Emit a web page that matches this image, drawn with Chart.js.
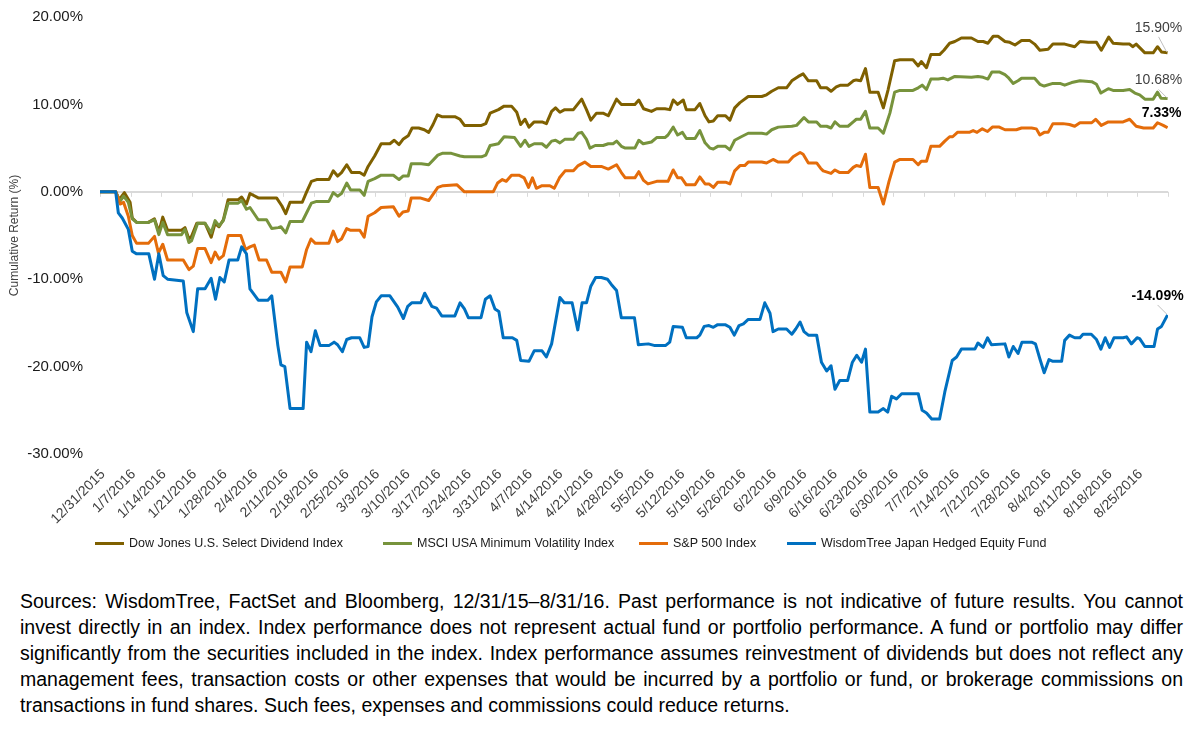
<!DOCTYPE html>
<html>
<head>
<meta charset="utf-8">
<script src="https://cdn.jsdelivr.net/npm/chart.js@4/dist/chart.umd.min.js"></script>
<style>
  body { margin: 0; background: #fff; width: 1200px; height: 736px; position: relative; overflow: hidden; font-family: "Liberation Sans", Arial, sans-serif; }
  #chart { position: absolute; left: 0; top: 0; }
  #legend { position: absolute; top: 534px; left: 0; width: 1200px; height: 18px; font-size: 12.5px; color: #1a1a1a; }
  .item { position: absolute; top: 0; height: 18px; display: flex; align-items: center; white-space: nowrap; }
  .swatch { width: 29px; height: 3px; margin-right: 5px; }
  #note { position: absolute; left: 20px; top: 588px; width: 1163px; font-size: 19.5px; line-height: 26px; color: #000; }
  #note div { text-align: justify; text-align-last: justify; }
  #note div.last { text-align-last: left; }
</style>
</head>
<body>
<canvas id="chart" width="1200" height="540"></canvas>
<div id="legend"></div>
<div id="note">
  <div>Sources: WisdomTree, FactSet and Bloomberg, 12/31/15–8/31/16. Past performance is not indicative of future results. You cannot</div>
  <div>invest directly in an index. Index performance does not represent actual fund or portfolio performance. A fund or portfolio may differ</div>
  <div>significantly from the securities included in the index. Index performance assumes reinvestment of dividends but does not reflect any</div>
  <div>management fees, transaction costs or other expenses that would be incurred by a portfolio or fund, or brokerage commissions on</div>
  <div class="last">transactions in fund shares. Such fees, expenses and commissions could reduce returns.</div>
</div>
<script>
// x = days since 12/31/2015, y = cumulative return (%)
const seriesNames = [
    'Dow Jones U.S. Select Dividend Index',
    'MSCI USA Minimum Volatility Index',
    'S&P 500 Index',
    'WisdomTree Japan Hedged Equity Fund'
];

const tickLabels = ['12/31/2015', '1/7/2016', '1/14/2016', '1/21/2016', '1/28/2016', '2/4/2016', '2/11/2016',
    '2/18/2016', '2/25/2016', '3/3/2016', '3/10/2016', '3/17/2016', '3/24/2016', '3/31/2016', '4/7/2016',
    '4/14/2016', '4/21/2016', '4/28/2016', '5/5/2016', '5/12/2016', '5/19/2016', '5/26/2016', '6/2/2016',
    '6/9/2016', '6/16/2016', '6/23/2016', '6/30/2016', '7/7/2016', '7/14/2016', '7/21/2016', '7/28/2016',
    '8/4/2016', '8/11/2016', '8/18/2016', '8/25/2016'];

const dividendPts = [[0,0],[3.6,0],[4.4,-0.9],[5.6,-0.1],[6.9,-1.2],[7.4,-3.0],[8.4,-3.5],[11.1,-3.5],[12.5,-3.1],
    [13.5,-4.6],[14.4,-2.9],[15.5,-4.4],[18.7,-4.4],[19.5,-4.1],[20.4,-5.4],[21.0,-5.1],[22.2,-3.6],[24.1,-3.6],
    [25.5,-5.2],[26.4,-3.6],[27.3,-4.0],[28.3,-3.2],[29.4,-0.9],[31.7,-0.9],[32.5,-0.6],[33.6,-1.4],[34.4,-0.2],
    [36.3,-0.7],[40.5,-0.7],[41.7,-1.6],[42.6,-2.5],[43.6,-1.2],[46.4,-1.2],[47.4,0],[48.5,1.2],[49.7,1.4],
    [52.5,1.4],[53.5,2.4],[54.5,1.8],[55.4,2.2],[56.6,3.1],[57.7,2.2],[59.6,2.2],[60.6,1.9],[61.5,2.9],[63.0,4.1],
    [64.5,5.5],[66.5,5.5],[67.5,5.9],[68.6,5.4],[69.5,6.0],[70.7,6.4],[71.6,7.3],[73.1,7.3],[74.4,7.1],[75.4,6.8],
    [76.4,7.7],[77.4,8.8],[78.4,8.6],[81.4,8.6],[82.6,8.3],[83.6,7.6],[87.5,7.6],[88.5,7.8],[89.5,9.0],[91.4,9.4],
    [92.7,9.8],[94.4,9.8],[95.6,9.1],[96.5,7.7],[97.5,8.3],[98.4,7.4],[99.6,8.0],[101.4,8.0],[102.4,7.8],[103.6,9.2],
    [104.5,9.6],[105.5,9.1],[106.6,9.4],[108.6,9.4],[110.5,10.6],[111.6,9.4],[112.6,8.2],[113.9,9.0],[115.4,9.0],
    [116.6,8.7],[118.5,10.6],[119.6,10.0],[122.7,10.0],[123.6,10.5],[124.7,9.5],[126.5,9.2],[127.7,9.5],[129.6,9.5],
    [130.7,9.4],[131.5,10.5],[132.5,10.0],[133.8,10.5],[134.5,9.4],[136.5,9.4],[137.6,10.1],[138.8,8.7],[139.7,8.0],
    [140.7,8.1],[141.7,8.7],[143.5,8.7],[144.5,8.2],[145.6,9.6],[146.8,10.2],[148.7,10.9],[151.8,10.9],[152.9,11.1],
    [154.1,11.5],[155.6,11.9],[157.5,11.9],[158.7,12.7],[160.2,13.2],[161.3,13.5],[162.5,12.7],[164.4,12.7],
    [165.3,11.9],[166.7,11.9],[167.7,11.5],[168.9,12.0],[169.9,12.2],[171.6,12.2],[172.8,12.7],[173.5,12.8],
    [174.5,12.7],[175.6,14.1],[176.6,11.4],[178.5,11.4],[179.7,9.6],[180.8,11.7],[182.3,15.0],[183.5,15.1],
    [186.5,15.1],[187.7,14.4],[188.4,14.9],[189.6,14.2],[190.6,15.7],[192.6,15.7],[193.6,16.2],[194.9,17.0],
    [196.1,17.2],[197.6,17.6],[199.9,17.6],[201.4,17.2],[202.6,17.2],[203.7,17.0],[204.9,17.8],[206.0,17.8],
    [207.6,17.2],[208.7,17.1],[209.9,16.8],[211.4,17.3],[213.3,17.3],[214.4,16.9],[215.6,16.2],[217.5,16.3],
    [218.6,16.9],[221.3,16.9],[223.6,16.6],[224.8,17.2],[226.7,17.1],[228.6,17.1],[229.7,16.2],[231.4,17.7],
    [232.4,17.0],[234.7,16.9],[236.2,16.9],[236.9,16.6],[237.7,16.9],[238.5,16.5],[239.7,15.9],[241.6,15.9],
    [242.6,16.6],[243.5,16.0],[244.9,15.90]];

const minVolPts = [[0,0],[3.6,0],[4.6,-1.1],[5.4,-0.5],[6.5,-1.2],[7.4,-3.1],[8.4,-3.5],[11.1,-3.5],[12.5,-3.2],
    [13.5,-4.9],[14.4,-3.5],[15.5,-4.9],[18.7,-4.9],[19.5,-4.3],[20.4,-5.8],[21.0,-5.6],[22.4,-3.6],[24.1,-3.6],
    [25.5,-4.7],[26.4,-3.3],[27.3,-3.9],[28.3,-3.3],[29.4,-1.3],[31.7,-1.3],[32.5,-1.0],[33.6,-2.0],[34.4,-1.8],
    [36.3,-3.2],[38.2,-3.2],[39.4,-4.2],[40.9,-4.1],[41.5,-4.0],[42.6,-4.7],[43.6,-3.4],[46.4,-3.4],[47.4,-2.4],
    [48.5,-1.3],[49.7,-1.1],[52.5,-1.1],[53.5,-0.1],[54.5,-0.5],[55.4,-0.2],[56.6,1.0],[57.5,0.2],[59.6,0.2],
    [60.6,-0.4],[61.5,1.2],[63.0,1.5],[64.5,1.9],[67.3,1.9],[68.6,1.4],[69.5,1.8],[70.7,1.8],[71.4,3.2],[73.7,3.2],
    [75.4,3.1],[77.5,4.2],[78.5,4.4],[80.6,4.4],[82.6,4.1],[83.6,4.0],[87.5,4.0],[88.5,4.2],[89.5,5.3],[91.4,5.5],
    [92.7,6.3],[95.1,6.2],[96.5,5.2],[97.5,5.9],[98.4,5.2],[99.6,5.5],[101.4,5.5],[102.4,5.1],[103.6,5.8],[104.5,5.9],
    [105.5,5.6],[106.6,6.0],[108.6,6.0],[109.7,6.7],[110.5,6.8],[111.6,6.0],[112.4,5.0],[113.6,5.3],[115.4,5.3],
    [116.6,5.5],[117.7,5.5],[118.5,5.8],[119.6,5.2],[120.5,5.0],[122.7,5.0],[123.6,5.9],[124.6,5.5],[126.5,5.7],
    [127.7,6.2],[129.6,6.2],[130.3,6.5],[131.5,7.4],[132.5,6.5],[133.6,6.8],[134.5,6.1],[136.5,6.1],[137.6,7.0],
    [138.8,5.6],[139.9,5.0],[140.7,4.9],[141.7,5.2],[143.5,5.2],[144.5,4.8],[145.6,5.9],[147.1,6.3],[148.7,6.7],
    [151.8,6.7],[152.9,6.6],[154.1,7.1],[155.6,7.4],[158.7,7.5],[159.8,7.6],[161.5,8.5],[162.5,8.0],[164.4,8.0],
    [165.3,7.5],[166.7,7.5],[167.7,7.3],[168.6,8.0],[169.7,7.5],[171.6,7.5],[172.8,8.0],[173.5,8.3],[174.5,8.3],
    [175.6,9.2],[176.6,7.3],[178.5,7.3],[179.7,6.7],[181.2,9.0],[182.3,11.4],[183.5,11.6],[186.5,11.6],[187.7,11.9],
    [188.6,12.2],[189.6,11.7],[190.6,12.9],[192.3,12.9],[193.4,13.0],[194.5,12.8],[196.1,13.2],[199.9,13.1],
    [201.4,13.2],[202.6,13.1],[203.7,12.9],[204.6,13.7],[206.4,13.7],[207.6,13.4],[208.3,13.1],[209.5,12.4],
    [210.6,12.7],[211.4,13.0],[214.4,13.0],[215.6,12.3],[216.6,12.1],[218.6,12.4],[220.2,12.4],[221.3,12.2],
    [222.9,12.5],[224.8,12.7],[227.5,12.6],[228.6,12.3],[229.6,11.3],[231.3,11.8],[232.4,11.6],[234.7,11.6],
    [236.2,11.7],[237.4,11.3],[238.5,11.1],[239.7,10.6],[241.6,10.6],[242.6,11.4],[243.4,10.7],[244.9,10.68]];

const sp500Pts = [[0,0],[3.6,0],[4.6,-1.4],[5.4,-1.2],[6.5,-2.8],[7.4,-5.0],[8.4,-5.9],[11.1,-5.9],[12.5,-5.1],
    [13.4,-7.0],[14.4,-6.0],[15.5,-7.8],[19.1,-7.8],[20.4,-8.9],[21.4,-8.5],[22.4,-6.5],[24.1,-6.5],[25.5,-8.1],
    [26.4,-6.9],[27.3,-7.7],[28.3,-7.3],[29.4,-5.0],[32.3,-5.0],[33.4,-6.6],[34.4,-6.3],[35.4,-6.1],[36.5,-7.8],
    [38.2,-7.8],[39.4,-9.2],[41.5,-9.2],[42.6,-10.3],[43.6,-8.6],[46.4,-8.6],[47.4,-6.6],[48.4,-5.4],[49.4,-5.9],
    [52.5,-5.9],[53.5,-4.5],[54.5,-5.7],[55.4,-5.4],[56.6,-4.2],[57.5,-4.4],[59.6,-4.4],[60.6,-5.2],[61.5,-2.8],
    [63.0,-2.4],[64.5,-1.8],[67.3,-1.7],[68.6,-2.8],[69.5,-2.3],[70.7,-2.2],[71.4,-0.7],[73.4,-0.7],[75.4,-1.0],
    [77.5,0.5],[78.7,0.7],[81.9,0.8],[83.6,0],[90.2,0],[91.2,1.0],[92.3,1.4],[93.2,1.2],[94.4,1.9],[96.1,1.9],
    [97.3,1.6],[98.3,0.5],[99.2,1.6],[100.1,0.4],[101.4,0.7],[103.2,0.7],[104.2,0.4],[105.4,1.6],[106.7,2.4],
    [108.6,2.4],[109.7,3.0],[111.2,3.4],[112.6,2.9],[115.0,2.9],[116.6,2.6],[118.5,3.1],[119.6,2.2],[120.5,1.6],
    [122.7,1.6],[123.6,2.3],[124.7,1.3],[125.7,0.9],[127.7,1.2],[130.3,1.2],[131.5,2.5],[132.5,1.6],[133.4,1.6],
    [134.5,0.8],[136.5,0.8],[137.6,1.7],[138.8,0.9],[139.7,0.9],[140.7,0.5],[141.7,1.1],[143.5,1.1],[144.5,0.9],
    [145.6,2.4],[146.8,3.0],[147.9,3.0],[148.7,3.4],[151.8,3.4],[152.9,3.3],[154.4,3.7],[155.6,3.4],[157.9,3.4],
    [159.0,4.0],[160.6,4.5],[161.3,4.3],[162.5,3.3],[164.4,3.3],[165.3,2.7],[165.9,2.4],[167.7,2.1],[168.6,2.5],
    [169.7,2.2],[171.6,2.2],[172.8,2.8],[173.5,3.0],[174.5,2.9],[175.6,4.3],[176.6,0.5],[178.5,0.5],[179.7,-1.4],
    [181.0,1.2],[182.3,3.4],[183.5,3.7],[186.5,3.7],[187.7,3.1],[188.4,3.5],[189.6,3.5],[190.6,5.2],[192.6,5.2],
    [193.8,5.8],[194.9,6.3],[195.6,6.3],[196.7,6.8],[199.4,6.8],[200.3,7.0],[201.2,6.8],[202.4,7.2],[203.6,6.9],
    [204.7,7.4],[206.3,7.4],[207.6,7.1],[210.2,7.1],[211.4,7.3],[213.7,7.3],[214.8,7.2],[215.6,6.5],[216.6,6.8],
    [217.5,6.8],[218.6,7.8],[220.9,7.8],[222.4,7.7],[223.6,7.5],[224.8,7.9],[227.5,7.9],[228.4,8.3],[229.7,7.6],
    [231.3,8.0],[234.7,8.0],[236.2,8.3],[237.7,7.5],[239.4,7.3],[241.6,7.3],[242.6,7.9],[243.9,7.6],[244.9,7.33]];

const japanPts = [[0,0],[3.6,0],[4.2,-2.4],[5.1,-3.0],[6.5,-4.3],[7.4,-6.8],[8.4,-7.1],[11.2,-7.1],[12.5,-10.0],
    [13.5,-7.1],[14.5,-9.6],[15.5,-10.0],[19.1,-10.2],[19.9,-13.8],[21.4,-16.0],[22.4,-11.1],[24.1,-11.1],
    [25.5,-9.9],[26.5,-12.3],[27.5,-9.8],[28.5,-10.3],[29.6,-7.8],[31.6,-7.8],[32.5,-6.3],[33.6,-7.1],[34.4,-11.1],
    [36.3,-12.4],[38.5,-12.4],[39.4,-11.9],[40.8,-17.6],[41.5,-19.8],[42.4,-20.0],[43.6,-24.8],[46.6,-24.8],
    [47.4,-17.2],[48.4,-18.3],[49.4,-15.9],[50.5,-17.6],[52.5,-17.6],[53.7,-17.2],[54.5,-17.5],[55.6,-18.3],
    [56.6,-16.9],[57.7,-16.7],[59.6,-16.7],[60.6,-17.8],[61.5,-17.7],[62.4,-14.3],[63.4,-12.6],[64.5,-11.9],
    [66.5,-11.9],[68.3,-13.2],[69.6,-14.5],[70.6,-13.1],[71.5,-12.7],[73.6,-12.7],[74.5,-11.6],[76.1,-13.1],
    [77.2,-13.3],[78.4,-14.2],[81.4,-14.2],[82.6,-12.7],[83.6,-13.4],[84.5,-14.4],[87.4,-14.4],[88.4,-12.3],
    [89.5,-11.9],[90.6,-13.4],[91.5,-13.7],[92.5,-16.7],[94.6,-16.7],[95.6,-17.0],[96.5,-19.3],[98.4,-19.4],
    [99.6,-18.2],[101.4,-18.2],[102.4,-18.9],[103.6,-17.4],[105.5,-12.1],[106.5,-12.7],[108.3,-12.7],[109.6,-15.8],
    [110.6,-12.7],[111.6,-12.7],[112.6,-10.8],[113.7,-9.8],[115.0,-9.8],[116.4,-10.0],[117.3,-10.6],[118.5,-11.3],
    [119.6,-14.4],[122.6,-14.4],[123.5,-17.5],[125.8,-17.4],[127.3,-17.6],[129.7,-17.6],[130.7,-17.2],[131.5,-15.4],
    [133.6,-15.5],[134.5,-16.7],[136.9,-16.7],[137.6,-16.4],[138.6,-15.4],[139.7,-15.3],[140.7,-15.5],[141.7,-15.2],
    [143.4,-15.2],[144.5,-15.5],[145.5,-16.4],[146.6,-15.3],[147.6,-15.1],[148.7,-14.6],[151.4,-14.6],[152.5,-12.7],
    [153.7,-13.9],[154.4,-16.0],[155.6,-15.7],[157.5,-15.7],[158.7,-16.3],[159.6,-15.7],[160.6,-14.9],[161.5,-16.0],
    [162.5,-16.4],[164.4,-16.4],[165.5,-19.5],[166.7,-20.5],[167.7,-19.9],[168.6,-22.6],[169.7,-21.6],[171.5,-21.6],
    [172.6,-19.5],[173.6,-18.7],[174.7,-19.5],[175.6,-18.0],[176.6,-25.2],[178.5,-25.2],[179.7,-24.8],[180.7,-25.2],
    [181.6,-23.4],[182.7,-23.7],[183.9,-23.1],[187.7,-23.1],[188.6,-25.0],[189.6,-25.3],[190.8,-26.0],[192.6,-26.0],
    [193.8,-22.9],[195.5,-19.3],[196.5,-18.9],[197.6,-18.0],[200.7,-18.0],[201.4,-17.3],[202.6,-17.8],[203.6,-16.7],
    [204.5,-17.5],[207.6,-17.4],[208.5,-18.9],[209.5,-17.7],[210.6,-18.5],[211.5,-17.2],[213.7,-17.2],[214.6,-17.4],
    [215.6,-19.1],[216.6,-20.7],[217.7,-19.2],[218.6,-19.4],[220.6,-19.4],[221.3,-17.0],[222.4,-16.4],[223.6,-16.7],
    [224.8,-16.7],[225.5,-16.3],[227.4,-16.3],[228.6,-16.9],[229.6,-18.0],[230.6,-16.7],[231.6,-17.8],[232.6,-16.7],
    [234.7,-16.7],[235.5,-16.6],[236.6,-17.4],[237.9,-16.7],[238.5,-16.8],[239.7,-17.7],[241.8,-17.7],[242.6,-15.7],
    [243.5,-15.4],[244.9,-14.09]];

const colors = ['#7f6000', '#77933c', '#e46c0a', '#0070c0'];
// label placement relative to last point: dx, dy, bold, leader line
const endLabelStyle = [
    { dx: -9, dy: -25, bold: false, leader: true },
    { dx: -9, dy: -18, bold: false, leader: true },
    { dx: -6, dy: -15, bold: true, leader: false },
    { dx: -10, dy: -19, bold: true, leader: true }
];

const allPts = [dividendPts, minVolPts, sp500Pts, japanPts];

const zeroAxisTicks = {
    id: 'zeroAxisTicks',
    beforeDatasetsDraw(chart) {
        const { ctx, scales: { x, y } } = chart;
        const y0 = y.getPixelForValue(0);
        ctx.save();
        ctx.strokeStyle = '#d9d9d9';
        ctx.lineWidth = 1;
        const vals = x.ticks.map(t => t.value).concat([x.max]);
        vals.forEach(v => {
            const px = Math.round(x.getPixelForValue(v)) + 0.5;
            ctx.beginPath();
            ctx.moveTo(px, y0);
            ctx.lineTo(px, y0 + 5);
            ctx.stroke();
        });
        ctx.restore();
    }
};

const endLabels = {
    id: 'endLabels',
    afterDatasetsDraw(chart) {
        const ctx = chart.ctx;
        ctx.save();
        chart.data.datasets.forEach((ds, i) => {
            const meta = chart.getDatasetMeta(i);
            const pt = meta.data[meta.data.length - 1];
            const st = endLabelStyle[i];
            const val = ds.data[ds.data.length - 1].y;
            const lx = pt.x + st.dx, ly = pt.y + st.dy;
            if (st.leader) {
                ctx.strokeStyle = '#bfbfbf';
                ctx.lineWidth = 1;
                ctx.beginPath();
                ctx.moveTo(lx, ly + 9);
                ctx.lineTo(pt.x - 1, pt.y - 1);
                ctx.stroke();
            }
            ctx.font = (st.bold ? 'bold ' : '') + '14px "Liberation Sans", Arial, sans-serif';
            ctx.fillStyle = st.bold ? '#000' : '#404040';
            ctx.textAlign = 'center';
            ctx.textBaseline = 'middle';
            ctx.fillText(val.toFixed(2) + '%', lx, ly);
        });
        ctx.restore();
    }
};

const datasets = seriesNames.map((name, i) => ({
    label: name,
    data: allPts[i].map(p => ({ x: p[0], y: p[1] })),
    borderColor: colors[i],
    backgroundColor: colors[i],
    borderWidth: 3,
    pointRadius: 0,
    tension: 0,
    borderJoinStyle: 'round',
    order: 4 - i
}));

new Chart(document.getElementById('chart'), {
    type: 'line',
    data: { datasets: datasets },
    options: {
        responsive: false,
        animation: false,
        layout: { padding: { left: 0, right: 32, top: 17, bottom: 0 } },
        plugins: { legend: { display: false }, tooltip: { enabled: false } },
        scales: {
            x: {
                type: 'linear',
                min: 0,
                max: 245,
                afterBuildTicks: s => { s.ticks = tickLabels.map((_, i) => ({ value: i * 7 })); },
                afterFit: s => { s.height = 86; },
                grid: { display: false },
                border: { display: false },
                ticks: {
                    autoSkip: false,
                    minRotation: 45,
                    maxRotation: 45,
                    padding: 4,
                    labelOffset: 3,
                    color: '#404040',
                    font: { size: 14, family: '"Liberation Sans", Arial, sans-serif' },
                    callback: (v, i) => tickLabels[i]
                }
            },
            y: {
                min: -30,
                max: 20,
                afterFit: s => { s.width = 100; s.paddingTop = 0; s.paddingBottom = 0; },
                grid: {
                    drawTicks: false,
                    color: c => (c.tick && c.tick.value === 0 ? '#d9d9d9' : 'rgba(0,0,0,0)'),
                    lineWidth: 2
                },
                border: { display: false },
                title: {
                    display: true,
                    text: 'Cumulative Return (%)',
                    color: '#404040',
                    padding: { top: 7, bottom: 0 },
                    font: { size: 12, family: '"Liberation Sans", Arial, sans-serif' }
                },
                ticks: {
                    stepSize: 10,
                    padding: 17,
                    color: '#1a1a1a',
                    font: { size: 15, family: '"Liberation Sans", Arial, sans-serif' },
                    callback: v => v.toFixed(2) + '%'
                }
            }
        }
    },
    plugins: [zeroAxisTicks, endLabels]
});

// legend laid out as in the original
const legendLeft = [95, 383, 639, 787];
const legend = document.getElementById('legend');
seriesNames.forEach((name, i) => {
    const item = document.createElement('div');
    item.className = 'item';
    item.style.left = legendLeft[i] + 'px';
    item.innerHTML = '<span class="swatch" style="background:' + colors[i] + '"></span>' + name.replace('&', '&amp;');
    legend.appendChild(item);
});
</script>
</body>
</html>
